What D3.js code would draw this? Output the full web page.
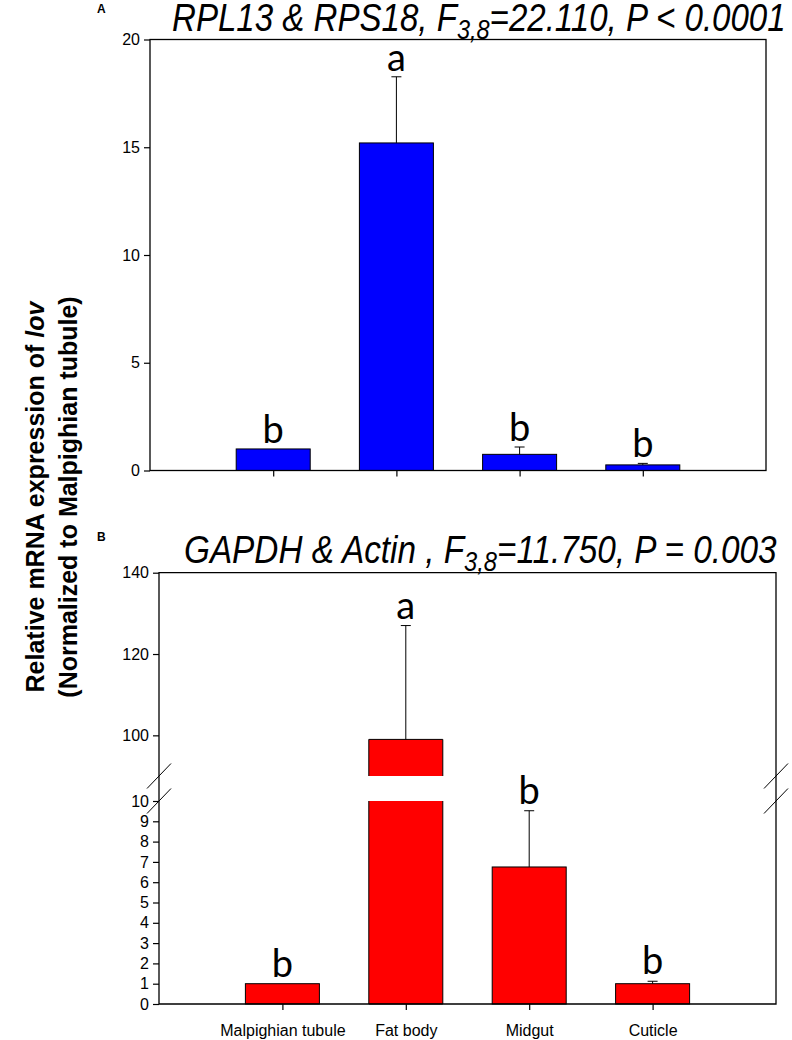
<!DOCTYPE html>
<html>
<head>
<meta charset="utf-8">
<script src="https://cdn.jsdelivr.net/npm/d3@7"></script>
<style>
	body { margin: 0; background: #fff; }
	svg { display: block; }
	.tick text { font-family: "Liberation Sans", Arial, sans-serif; font-size: 16px; fill: #000; }
	.tick line { stroke: #000; stroke-width: 1.2; }
</style>
</head>
<body>
<div id="chart"></div>
<script>
// Data
const tissues = ["Malpighian tubule", "Fat body", "Midgut", "Cuticle"];
const meanA = [1.0, 15.2, 0.75, 0.26];
const errA = [0, 3.07, 0.34, 0.07];
const lettersA = ["b", "a", "b", "b"];
const meanB = [1.0, 99, 6.75, 1.0];
const errB = [0, 28, 2.77, 0.12];
const lettersB = ["b", "a", "b", "b"];
const ticksA = [0, 5, 10, 15, 20];
const ticksBLow = [0, 1, 2, 3, 4, 5, 6, 7, 8, 9, 10];
const ticksBHigh = [100, 120, 140];

const W = 792, H = 1040;
const svg = d3.select("#chart").append("svg").attr("width", W).attr("height", H);

const barW = 74;
const fontTitle = '"Liberation Sans Narrow", "Arial Narrow", "Liberation Sans", sans-serif';
const fontLetter = 'Lato, "Open Sans", sans-serif';

// italic title with a subscript, squeezed horizontally to the width it has in the figure
function title(x, y, width, pre, sub, post) {
	const g = svg.append("g");
	const t = g.append("text")
		.attr("x", 0).attr("y", 0)
		.style("font-family", fontTitle)
		.style("font-style", "italic")
		.style("font-size", "38px");
	t.append("tspan").text(pre);
	t.append("tspan").attr("dy", 8).style("font-size", "27px").text(sub);
	t.append("tspan").attr("dy", -8).text(post);
	const w = t.node().getBBox().width;
	g.attr("transform", `translate(${x},${y}) scale(${width / w},1)`);
	return g;
}

// ---------- Panel A ----------
const xA = d3.scaleLinear().domain([0, 5]).range([150, 766]);
const yA = d3.scaleLinear().domain([0, 20]).range([470.5, 39.5]);

svg.append("text").attr("x", 97).attr("y", 13)
	.style("font-family", "Liberation Sans, Arial, sans-serif")
	.style("font-weight", "bold").style("font-size", "12px").text("A");

title(172, 31, 614, "RPL13 & RPS18, F", "3,8", "=22.110, P < 0.0001");

const gA = svg.append("g");

gA.append("g").attr("transform", `translate(150,0)`)
	.call(d3.axisLeft(yA).tickValues(ticksA).tickSize(6).tickPadding(4).tickSizeOuter(0))
	.call((g) => g.select(".domain").remove());

gA.append("g").attr("transform", `translate(0,${yA(0)})`)
	.call(d3.axisBottom(xA).tickValues([1, 2, 3, 4]).tickSize(6).tickFormat("").tickSizeOuter(0))
	.call((g) => g.select(".domain").remove());

gA.selectAll(".bar")
	.data(meanA)
	.join("rect")
	.attr("x", (d, i) => xA(i + 1) - barW / 2)
	.attr("width", barW)
	.attr("y", (d) => yA(d))
	.attr("height", (d) => yA(0) - yA(d))
	.attr("fill", "#0000ff")
	.attr("stroke", "#000")
	.attr("stroke-width", 1);

meanA.forEach((d, i) => {
	const cx = xA(i + 1);
	const top = d + errA[i];
	if (errA[i] > 0) {
		gA.append("line").attr("x1", cx).attr("x2", cx)
			.attr("y1", yA(d)).attr("y2", yA(top)).attr("stroke", "#000");
		gA.append("line").attr("x1", cx - 5).attr("x2", cx + 5)
			.attr("y1", yA(top)).attr("y2", yA(top)).attr("stroke", "#000");
	}
	gA.append("text").attr("x", cx).attr("y", yA(top) - 6)
		.attr("text-anchor", "middle")
		.style("font-family", fontLetter).style("font-size", "38px")
		.text(lettersA[i]);
});

gA.append("rect")
	.attr("x", 150).attr("y", yA(20))
	.attr("width", 766 - 150).attr("height", yA(0) - yA(20))
	.attr("fill", "none").attr("stroke", "#000").attr("stroke-width", 1.3);

// ---------- Panel B ----------
const xB = d3.scaleLinear().domain([0, 5]).range([159, 776]);
const yLow = d3.scaleLinear().domain([0, 10]).range([1004, 801]);
const yHigh = d3.scaleLinear().domain([90, 140]).range([776, 572.7]);
const yB = (v) => (v > 10 ? yHigh(v) : yLow(v));

svg.append("text").attr("x", 97).attr("y", 541)
	.style("font-family", "Liberation Sans, Arial, sans-serif")
	.style("font-weight", "bold").style("font-size", "12px").text("B");

title(184, 563, 593, "GAPDH & Actin , F", "3,8", "=11.750, P = 0.003");

const gB = svg.append("g");

gB.append("g").attr("transform", `translate(159,0)`)
	.call(d3.axisLeft(yLow).tickValues(ticksBLow).tickSize(6).tickPadding(4).tickSizeOuter(0))
	.call((g) => g.select(".domain").remove());

gB.append("g").attr("transform", `translate(159,0)`)
	.call(d3.axisLeft(yHigh).tickValues(ticksBHigh).tickSize(6).tickPadding(4).tickSizeOuter(0))
	.call((g) => g.select(".domain").remove());

gB.append("g").attr("transform", `translate(0,${yLow(0)})`)
	.call(d3.axisBottom(xB).tickValues([1, 2, 3, 4]).tickSize(6).tickPadding(15)
		.tickFormat((d) => tissues[d - 1]).tickSizeOuter(0))
	.call((g) => g.select(".domain").remove());

meanB.forEach((d, i) => {
	const cx = xB(i + 1);
	const x0 = cx - barW / 2, x1 = cx + barW / 2;
	if (d > 10) {
		// lower piece, open at the top
		gB.append("rect").attr("x", x0).attr("width", barW)
			.attr("y", yLow(10)).attr("height", yLow(0) - yLow(10)).attr("fill", "#ff0000");
		gB.append("path")
			.attr("d", `M${x0},${yLow(10)}V${yLow(0)}H${x1}V${yLow(10)}`)
			.attr("fill", "none").attr("stroke", "#000");
		// upper piece, open at the bottom
		gB.append("rect").attr("x", x0).attr("width", barW)
			.attr("y", yHigh(d)).attr("height", yHigh(90) - yHigh(d)).attr("fill", "#ff0000");
		gB.append("path")
			.attr("d", `M${x0},${yHigh(90)}V${yHigh(d)}H${x1}V${yHigh(90)}`)
			.attr("fill", "none").attr("stroke", "#000");
	} else {
		gB.append("rect").attr("x", x0).attr("width", barW)
			.attr("y", yLow(d)).attr("height", yLow(0) - yLow(d))
			.attr("fill", "#ff0000").attr("stroke", "#000");
	}
	const top = d + errB[i];
	if (errB[i] > 0) {
		gB.append("line").attr("x1", cx).attr("x2", cx)
			.attr("y1", yB(d)).attr("y2", yB(top)).attr("stroke", "#000");
		gB.append("line").attr("x1", cx - 5).attr("x2", cx + 5)
			.attr("y1", yB(top)).attr("y2", yB(top)).attr("stroke", "#000");
	}
	gB.append("text").attr("x", cx).attr("y", yB(top) - 7)
		.attr("text-anchor", "middle")
		.style("font-family", fontLetter).style("font-size", "38px")
		.text(lettersB[i]);
});

// frame of panel B
gB.append("path")
	.attr("d", `M159,${yLow(0)}V${yHigh(140)}H776V${yLow(0)}H159`)
	.attr("fill", "none").attr("stroke", "#000").attr("stroke-width", 1.3);

// break marks on both sides
[159, 776].forEach((ax) => {
	[yHigh(90), yLow(10)].forEach((by) => {
		gB.append("line")
			.attr("x1", ax - 12).attr("y1", by + 12.5)
			.attr("x2", ax + 12).attr("y2", by - 12.5)
			.attr("stroke", "#000").attr("stroke-width", 1);
	});
});

// shared y label
const yl = svg.append("text")
	.attr("transform", "translate(44,497) rotate(-90)")
	.attr("text-anchor", "middle")
	.style("font-family", "Liberation Sans, Arial, sans-serif")
	.style("font-weight", "bold").style("font-size", "25px");
yl.append("tspan").text("Relative mRNA expression of ");
yl.append("tspan").style("font-style", "italic").text("lov");

svg.append("text")
	.attr("transform", "translate(77,497) rotate(-90)")
	.attr("text-anchor", "middle")
	.style("font-family", "Liberation Sans, Arial, sans-serif")
	.style("font-weight", "bold").style("font-size", "25px")
	.text("(Normalized to Malpighian tubule)");
</script>
</body>
</html>
